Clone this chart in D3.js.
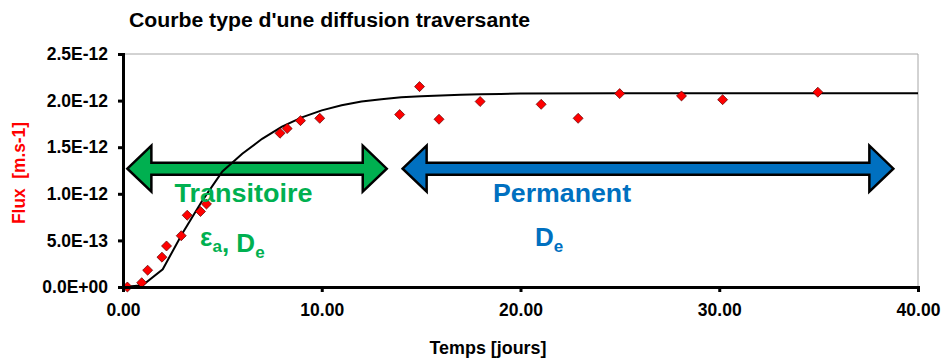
<!DOCTYPE html>
<html>
<head>
<meta charset="utf-8">
<script src="https://cdn.jsdelivr.net/npm/d3@7/dist/d3.min.js"></script>
<style>
  html, body { margin: 0; padding: 0; background: #fff; }
  svg { display: block; }
  text { font-family: "Liberation Sans", Arial, sans-serif; }
</style>
</head>
<body>
<svg id="chart" width="942" height="360"></svg>
<script>
// Measured flux through the sample (days, ×1e-12 m.s-1)
const measDays = [0.22, 0.94, 1.24, 1.96, 2.19, 2.93, 3.23, 3.90, 4.20, 7.90, 8.26, 8.93, 9.90,
                  13.92, 14.92, 15.90, 17.97, 21.04, 22.90, 24.99, 28.10, 30.17, 34.96];
const measFlux = [0, 0.046, 0.18, 0.32, 0.44, 0.55, 0.77, 0.81, 0.89, 1.65, 1.70, 1.785, 1.81,
                  1.85, 2.15, 1.80, 1.99, 1.96, 1.81, 2.075, 2.05, 2.01, 2.09];

// Fitted through-diffusion curve (days, ×1e-12 m.s-1)
const fitDays = [0, 1, 2, 3, 4, 5, 6, 7, 8, 9, 10, 11, 12, 13, 14, 15, 16, 17, 18, 19, 20, 25, 30, 35, 40];
const fitFlux = [0, 0.02, 0.19, 0.58, 0.93, 1.24, 1.43, 1.59, 1.72, 1.82, 1.895, 1.95, 1.99, 2.015,
                 2.035, 2.046, 2.055, 2.062, 2.068, 2.072, 2.075, 2.079, 2.08, 2.08, 2.08];

// Axis ticks
const xTicks = [0, 10, 20, 30, 40];
const xTickLabels = ["0.00", "10.00", "20.00", "30.00", "40.00"];
const yTicks = [0, 0.5, 1.0, 1.5, 2.0, 2.5];
const yTickLabels = ["0.0E+00", "5.0E-13", "1.0E-12", "1.5E-12", "2.0E-12", "2.5E-12"];

// Regime annotations (double arrows spanning the time ranges)
const phaseNames  = ["Transitoire", "Permanent"];
const phaseStart  = [0.22, 14.07];
const phaseEnd    = [13.27, 38.76];
const phaseLevel  = [1.27, 1.27];
const phaseColors = ["#00B050", "#0070C0"];
const phaseLabelX = [6.06, 22.09];
const phaseParamX = [3.88, 20.73];
// parameters identified in each regime: [main text, subscript] pairs
const phaseParams = [[["ε", "a"], [", D", "e"]], [["D", "e"]]];

const svg = d3.select("#chart");

const x = d3.scaleLinear().domain([0, 40]).range([123, 918]);
const y = d3.scaleLinear().domain([0, 2.5]).range([287, 54]);

// plot frame (top and right edges)
svg.append("path")
  .attr("d", `M${x(0)},${y(2.5)}H${x(40)}V${y(0)}`)
  .attr("fill", "none").attr("stroke", "#A6A6A6").attr("stroke-width", 1);

// regime arrows
const headLen = 24, headHalf = 23, shaftHalf = 6;
phaseNames.forEach((name, i) => {
  const x0 = x(phaseStart[i]), x1 = x(phaseEnd[i]), cy = y(phaseLevel[i]);
  const p = d3.path();
  p.moveTo(x0, cy);
  p.lineTo(x0 + headLen, cy - headHalf);
  p.lineTo(x0 + headLen, cy - shaftHalf);
  p.lineTo(x1 - headLen, cy - shaftHalf);
  p.lineTo(x1 - headLen, cy - headHalf);
  p.lineTo(x1, cy);
  p.lineTo(x1 - headLen, cy + headHalf);
  p.lineTo(x1 - headLen, cy + shaftHalf);
  p.lineTo(x0 + headLen, cy + shaftHalf);
  p.lineTo(x0 + headLen, cy + headHalf);
  p.closePath();
  svg.append("path").attr("d", p.toString())
    .attr("fill", phaseColors[i]).attr("stroke", "#000")
    .attr("stroke-width", 2.5).attr("stroke-linejoin", "miter");
});

// fitted curve
const line = d3.line().x((d, i) => x(fitDays[i])).y(d => y(d));
svg.append("path").datum(fitFlux)
  .attr("d", line)
  .attr("fill", "none").attr("stroke", "#000").attr("stroke-width", 2);

// measured points (diamonds)
const diamond = d3.symbol().type(d3.symbolDiamond2).size(64);
svg.append("g").selectAll("path").data(measFlux).join("path")
  .attr("d", diamond)
  .attr("transform", (d, i) => `translate(${x(measDays[i])},${y(d)})`)
  .attr("fill", "#FF0000").attr("stroke", "#5a0000").attr("stroke-width", 0.7);

// axes
const yAxis = d3.axisLeft(y).tickValues(yTicks)
  .tickFormat((d, i) => yTickLabels[i]).tickSize(5).tickSizeOuter(0).tickPadding(10);
const gy = svg.append("g").attr("transform", `translate(${x(0)},0)`).call(yAxis);

const xAxis = d3.axisBottom(x).tickValues(xTicks)
  .tickFormat((d, i) => xTickLabels[i]).tickSize(5).tickSizeOuter(0).tickPadding(12);
const gx = svg.append("g").attr("transform", `translate(0,${y(0)})`).call(xAxis);

[gy, gx].forEach(g => {
  g.select(".domain").attr("stroke", "#000").attr("stroke-width", 3).attr("stroke-linecap", "square");
  g.selectAll(".tick line").attr("stroke", "#000").attr("stroke-width", 3);
  g.selectAll(".tick text").attr("fill", "#000")
    .style("font-family", '"Liberation Sans", Arial, sans-serif')
    .style("font-size", "17.5px").style("font-weight", "bold");
});

// regime labels
phaseNames.forEach((name, i) => {
  const cy = y(phaseLevel[i]);
  svg.append("text")
    .attr("x", x(phaseLabelX[i])).attr("y", cy + 33)
    .attr("text-anchor", "middle")
    .attr("textLength", 138).attr("lengthAdjust", "spacingAndGlyphs")
    .style("font-size", "26px").style("font-weight", "bold")
    .attr("fill", phaseColors[i]).text(name);

  const t = svg.append("text")
    .attr("x", x(phaseParamX[i])).attr("y", cy + 77)
    .style("font-size", "26px").style("font-weight", "bold")
    .attr("fill", phaseColors[i]);
  phaseParams[i].forEach(([main, sub]) => {
    t.append("tspan").attr("dy", 0).text(main);
    t.append("tspan").attr("dy", 6).style("font-size", "17px").text(sub);
    t.append("tspan").attr("dy", -6).style("font-size", "17px").text("");
  });
});

// title
svg.append("text")
  .attr("x", 129).attr("y", 27)
  .attr("textLength", 401).attr("lengthAdjust", "spacingAndGlyphs")
  .style("font-size", "20px").style("font-weight", "bold").attr("fill", "#000")
  .text("Courbe type d'une diffusion traversante");

// axis titles
svg.append("text")
  .attr("x", 488).attr("y", 354).attr("text-anchor", "middle")
  .attr("textLength", 117).attr("lengthAdjust", "spacingAndGlyphs")
  .style("font-size", "17.5px").style("font-weight", "bold").attr("fill", "#000")
  .text("Temps [jours]");

svg.append("text")
  .attr("transform", "translate(24.5,173) rotate(-90)")
  .attr("text-anchor", "middle")
  .attr("textLength", 102).attr("lengthAdjust", "spacingAndGlyphs")
  .style("font-size", "17.5px").style("font-weight", "bold").style("white-space", "pre")
  .attr("fill", "#FF0000")
  .text("Flux  [m.s-1]");
</script>
</body>
</html>
